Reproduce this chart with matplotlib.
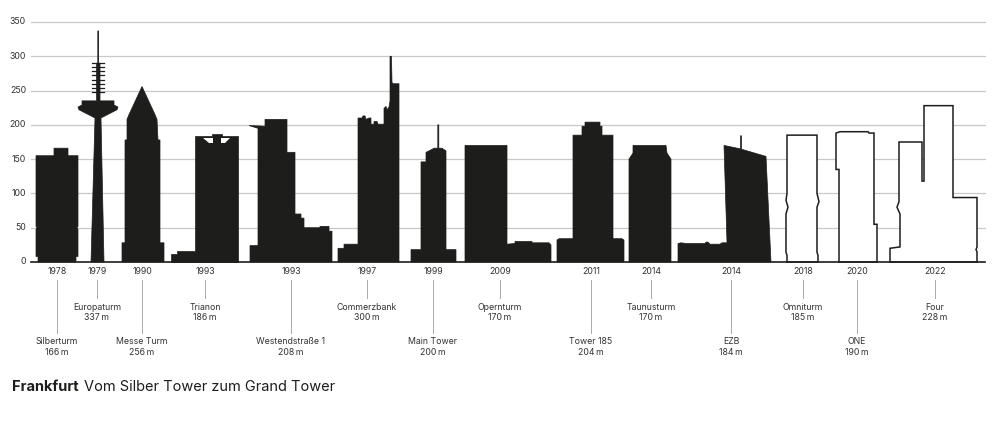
import matplotlib.pyplot as plt
from matplotlib.patches import Polygon

plt.rcParams["font.family"] = ["Inter", "DejaVu Sans"]

INK = "#1d1d1b"
GRID = "#c8c8c8"

Y_TICKS = [0, 50, 100, 150, 200, 250, 300, 350]

NAMES = ["Silberturm", "Europaturm", "Messe Turm", "Trianon", "Westendstraße 1",
         "Commerzbank", "Main Tower", "Opernturm", "Tower 185", "Taunusturm",
         "EZB", "Omniturm", "ONE", "Four"]
YEARS = [1978, 1979, 1990, 1993, 1993, 1997, 1999, 2009, 2011, 2014, 2014, 2018, 2020, 2022]
HEIGHTS = [166, 337, 256, 186, 208, 300, 200, 170, 204, 170, 184, 185, 190, 228]
LABEL_X = [57, 97, 142, 205, 291, 367, 433, 500, 591, 651, 731, 803, 857, 935]
LEVEL = [2, 1, 2, 1, 2, 1, 2, 1, 2, 1, 2, 1, 2, 1]
BUILT = [True] * 11 + [False] * 3

# silhouettes: (x position on the strip, height in m)
OUTLINES = [
    [(38, 0), (38, 8), (36, 8), (36, 48), (37, 50), (36, 52), (36, 155), (54, 155), (54, 166),
     (68, 166), (68, 155), (78, 155), (78, 52), (77, 50), (78, 48), (78, 8), (76, 8), (76, 0)],
    [(91, 0), (95, 210), (79, 222), (78, 226), (82, 229), (82, 235), (96.5, 235), (96.5, 290),
     (97.8, 290), (97.8, 337), (98.6, 337), (98.6, 290), (100, 290), (100, 235), (114, 235),
     (114, 229), (118, 226), (117, 222), (101, 210), (104, 0)],
    [(122, 0), (122, 28), (125, 28), (125, 178), (127, 178), (127, 208), (129, 215), (142, 256),
     (155, 215), (157, 208), (158, 178), (160, 178), (160, 28), (164, 28), (164, 0)],
    [(171, 0), (171, 12), (177, 12), (177, 16), (195, 16), (195, 184), (212, 184), (212, 186),
     (222, 186), (222, 184), (238, 184), (238, 0)],
    [(250, 0), (250, 24), (258, 24), (258, 195), (249, 199), (265, 198), (265, 208), (287, 208),
     (287, 160), (295, 160), (295, 70), (301, 70), (301, 64), (304, 64), (304, 50), (320, 50),
     (320, 52), (329, 52), (329, 45), (332, 45), (332, 0)],
    [(338, 0), (338, 20), (344, 20), (344, 26), (358, 26), (358, 210), (362, 210), (363, 213),
     (365, 213), (366, 208), (369, 210), (371, 210), (371, 201), (374, 201), (374, 205),
     (377, 205), (378, 201), (384, 201), (384, 224), (386, 227), (387, 222), (389, 226),
     (390, 235), (390, 300), (391.5, 300), (392, 262), (393, 260), (399, 260), (399, 0)],
    [(411, 0), (411, 18), (421, 18), (421, 146), (426, 146), (426, 160), (429, 162), (434, 166),
     (437.8, 166), (437.8, 200), (438.8, 200), (438.8, 166), (442, 166), (446, 162), (446, 18),
     (456, 18), (456, 0)],
    [(465, 0), (465, 170), (507, 170), (507, 26), (515, 27), (515, 30), (532, 30), (532, 28),
     (549, 28), (551, 25), (551, 0)],
    [(557, 0), (557, 32), (559, 34), (573, 34), (573, 185), (582, 185), (582, 198), (585, 198),
     (585, 204), (600, 204), (600, 198), (602, 198), (602, 185), (613, 185), (613, 34),
     (622, 34), (624, 32), (624, 0)],
    [(629, 0), (629, 150), (633, 159), (633, 170), (666, 170), (667, 159), (671, 150), (671, 0)],
    [(678, 0), (678, 27), (681, 28), (686, 27), (705, 27), (706, 29), (708, 29), (710, 26),
     (720, 26), (722, 28), (727, 28), (724, 170), (740.5, 165), (740.5, 184), (741.5, 184),
     (741.5, 164.5), (766, 154), (771, 0)],
    [(787, 0), (787, 10), (786, 14), (786, 70), (788, 80), (786, 90), (787, 100), (787, 185),
     (817, 185), (817, 100), (819, 88), (817, 80), (817, 14), (818, 10), (818, 0)],
    [(839, 0), (839, 135), (836, 135), (836, 188), (840, 190), (868, 190), (869, 188),
     (874, 188), (874, 55), (877, 55), (877, 0)],
    [(890, 0), (890, 20), (900, 22), (900, 70), (897, 80), (899, 88), (899, 175), (922, 175),
     (922, 118), (924, 118), (924, 228), (953, 228), (953, 94), (977, 94), (977, 22),
     (976, 18), (977, 15), (977, 0)],
]

# white cut-outs in the Trianon crown
CUTOUTS = [
    [(203, 181), (213, 181), (213, 173), (209, 173)],
    [(230, 181), (221, 181), (221, 173), (225, 173)],
]

EUROPA_RUNGS = [248, 254, 260, 266, 272, 278, 284, 290]


def py(pixel_y):
    # pixel row -> metre scale
    return (262 - pixel_y) / 240 * 350


fig = plt.figure(figsize=(10, 4.42), dpi=100)
ax = fig.add_axes([0, 0, 1, 1])
ax.set_xlim(0, 1000)
ax.set_ylim(py(442), py(0))
ax.axis("off")

for t in Y_TICKS:
    if t > 0:
        ax.plot([31, 985], [t, t], color=GRID, lw=0.9, zorder=0)
    ax.text(26, t, str(t), ha="right", va="center", fontsize=6.3, color="#333333")

for outline, built in zip(OUTLINES, BUILT):
    if built:
        ax.add_patch(Polygon(outline, closed=True, facecolor=INK, edgecolor=INK, lw=0.5, zorder=2))
    else:
        ax.add_patch(Polygon(outline, closed=True, facecolor="white", edgecolor=INK, lw=1.1, zorder=2))
for cut in CUTOUTS:
    ax.add_patch(Polygon(cut, closed=True, facecolor="white", edgecolor="none", zorder=3))
for r in EUROPA_RUNGS:
    ax.plot([92, 104], [r, r], color=INK, lw=0.9, zorder=2)

ax.plot([31, 985], [0, 0], color=INK, lw=1.2, zorder=4)

for name, year, h, x, lvl in zip(NAMES, YEARS, HEIGHTS, LABEL_X, LEVEL):
    ax.text(x, py(272), str(year), ha="center", va="center", fontsize=6.3, color="#333333")
    name_y = 307 if lvl == 1 else 342
    ax.plot([x, x], [py(280), py(name_y - 9)], color="#aaaaaa", lw=0.7)
    ax.text(x, py(name_y), name, ha="center", va="center", fontsize=6.3, color="#333333")
    ax.text(x, py(name_y + 11), f"{h}\u2009m", ha="center", va="center", fontsize=6.3, color="#333333")

ax.text(12, py(387), "Frankfurt", ha="left", va="center", fontsize=10.5, fontweight="bold", color=INK)
ax.text(84, py(387), "Vom Silber Tower zum Grand Tower", ha="left", va="center", fontsize=10.5, color=INK)

fig.savefig("out.png", dpi=100)
